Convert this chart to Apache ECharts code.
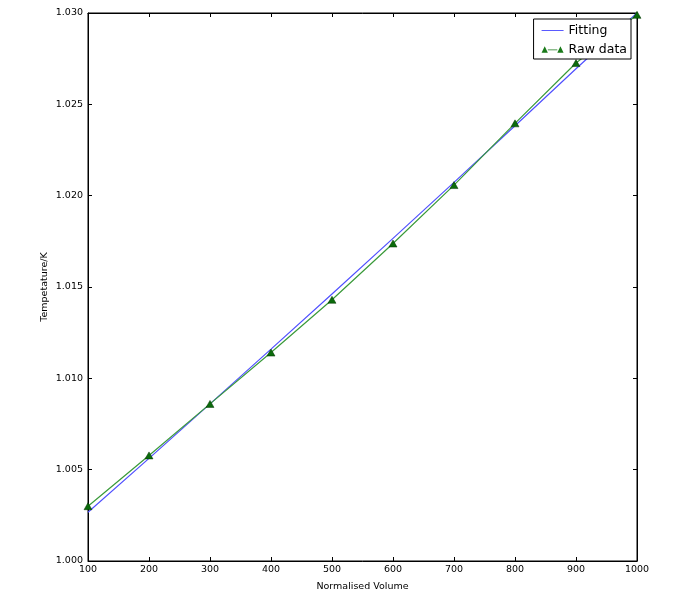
<!DOCTYPE html>
<html>
<head>
<meta charset="utf-8">
<script src="https://cdn.jsdelivr.net/npm/echarts@6/dist/echarts.min.js"></script>
<style>html,body{margin:0;padding:0;background:#fff;}#c{width:676px;height:599px;}</style>
</head>
<body>
<div id="c"></div>
<script>
var volumes = [100, 200, 300, 400, 500, 600, 700, 800, 900, 1000];
var rawTemps = [1.00300, 1.00578, 1.00860, 1.01141, 1.01430, 1.01738, 1.02058, 1.02396, 1.02726, 1.02990];
var fitTemps = [1.00267, 1.00562, 1.00860, 1.01160, 1.01462, 1.01766, 1.02073, 1.02383, 1.02695, 1.03000];
var xTicks = {min: 100, max: 1000, interval: 100};
var yTicks = {min: 1.000, max: 1.030, interval: 0.005};

var fitData = volumes.map(function (v, i) { return [v, fitTemps[i]]; });
var rawData = volumes.map(function (v, i) { return [v, rawTemps[i]]; });

var font = 'DejaVu Sans';
var tickFs = 9.5;
var chart = echarts.init(document.getElementById('c'), null, {renderer: 'canvas'});
var rawIcon = 'path://M0,8 L4,0 L8,8 Z M8,3.9 L20,3.9 L20,5.1 L8,5.1 Z M20,8 L24,0 L28,8 Z';
chart.setOption({
  animation: false,
  backgroundColor: '#fff',
  grid: {left: 88, right: 39, top: 13, bottom: 38, show: true, borderColor: '#000', borderWidth: 1, containLabel: false},
  legend: {
    right: 45, top: 19,
    orient: 'vertical',
    backgroundColor: '#fff',
    borderColor: '#000', borderWidth: 1,
    padding: [5, 4, 3, 8],
    itemGap: 6,
    itemWidth: 22, itemHeight: 7,
    textStyle: {fontFamily: font, fontSize: 12.5, color: '#000'},
    data: [
      {name: 'Fitting', icon: 'path://M0,3.9 L28,3.9 L28,5.1 L0,5.1 Z', itemStyle: {color: '#5050ff', borderWidth: 0}, lineStyle: {width: 0}},
      {name: 'Raw data', icon: rawIcon, itemStyle: {color: '#1a7a1a', borderWidth: 0}, lineStyle: {width: 0}}
    ]
  },
  xAxis: [{
    type: 'value', min: xTicks.min, max: xTicks.max, interval: xTicks.interval,
    name: 'Normalised Volume', nameLocation: 'middle', nameGap: 21,
    nameTextStyle: {fontFamily: font, fontSize: 9.5, color: '#000'},
    axisLine: {show: true, lineStyle: {color: '#000', width: 1}},
    axisTick: {show: true, inside: true, length: 4, lineStyle: {color: '#000'}},
    axisLabel: {fontFamily: font, fontSize: tickFs, color: '#000', margin: 4,
      formatter: function (v) { return String(v); }},
    splitLine: {show: false}
  }, {
    type: 'value', position: 'top', min: xTicks.min, max: xTicks.max, interval: xTicks.interval,
    axisLine: {show: true, lineStyle: {color: '#000'}},
    axisTick: {show: true, inside: true, length: 4, lineStyle: {color: '#000'}},
    axisLabel: {show: false}, splitLine: {show: false}
  }],
  yAxis: [{
    type: 'value', min: yTicks.min, max: yTicks.max, interval: yTicks.interval,
    name: 'Tempetature/K', nameLocation: 'middle', nameGap: 43, nameRotate: 90,
    nameMoveOverlap: false,
    nameTextStyle: {fontFamily: font, fontSize: 9.5, color: '#000', verticalAlign: 'middle'},
    axisLine: {show: true, lineStyle: {color: '#000', width: 1}},
    axisTick: {show: true, inside: true, length: 4, lineStyle: {color: '#000'}},
    axisLabel: {fontFamily: font, fontSize: tickFs, color: '#000', margin: 5,
      formatter: function (v) { return v.toFixed(3); }},
    splitLine: {show: false}
  }, {
    type: 'value', position: 'right', min: yTicks.min, max: yTicks.max, interval: yTicks.interval,
    axisLine: {show: true, lineStyle: {color: '#000'}},
    axisTick: {show: true, inside: true, length: 4, lineStyle: {color: '#000'}},
    axisLabel: {show: false}, splitLine: {show: false}
  }],
  series: [{
    name: 'Fitting', type: 'line', data: fitData, showSymbol: false, symbol: 'none',
    lineStyle: {color: '#5050ff', width: 1.2}, itemStyle: {color: '#5050ff'}, z: 2
  }, {
    name: 'Raw data', type: 'line', data: rawData,
    symbol: 'triangle', symbolSize: [8, 7],
    lineStyle: {color: '#3a9a3a', width: 1.2},
    itemStyle: {color: '#0b6b0b', borderColor: '#003300', borderWidth: 0.5}, z: 3
  }]
});
</script>
</body>
</html>
